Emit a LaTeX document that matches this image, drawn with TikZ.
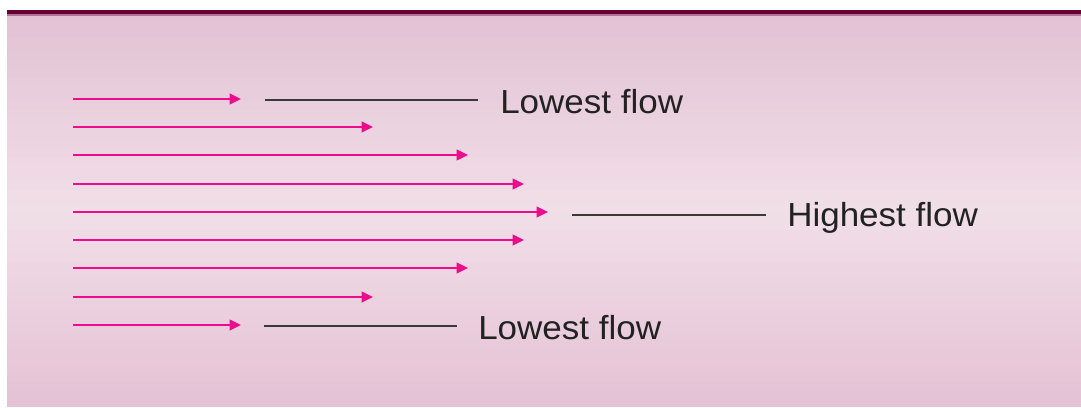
\documentclass[tikz,border=0pt]{standalone}
\usepackage{fontspec}
\setmainfont{Liberation Sans}
\usetikzlibrary{arrows.meta}
\definecolor{bandtop}{HTML}{E2C2D4}
\definecolor{bandmid}{HTML}{F1DFE8}
\definecolor{bandbot}{HTML}{E5C2D5}
\definecolor{rim}{HTML}{640033}
\definecolor{rimedge}{HTML}{B37294}
\definecolor{flow}{HTML}{EC0C8C}
\definecolor{leader}{HTML}{3A3A3A}
\definecolor{ink}{HTML}{222222}
\tikzset{
  flowarrow/.style={draw=flow, line width=1.6pt,
    -{Triangle[length=8.5pt,width=8pt]}},
  leaderline/.style={draw=leader, line width=1.5pt},
  flowlabel/.style={anchor=base west, inner sep=0pt, text=ink,
    font=\fontsize{25}{30}\selectfont}
}
\newcommand{\wide}[1]{\scalebox{1.05}[1]{#1}}
\begin{document}
\begin{tikzpicture}[x=0.75pt,y=-0.75pt]
\useasboundingbox (0,0) rectangle (1081,407);
% pipe interior: thin horizontal strips, lighter towards the centre line
\foreach \k in {0,...,48} {
  \pgfmathsetmacro{\ya}{14+\k*8}
  \pgfmathsetmacro{\yb}{\ya+8.6}
  \ifnum\k<25
    \pgfmathsetmacro{\p}{100*\k/24}
    \fill[bandmid!\p!bandtop] (7,\ya) rectangle (1081,\yb);
  \else
    \pgfmathsetmacro{\p}{100*(48-\k)/24}
    \fill[bandmid!\p!bandbot] (7,\ya) rectangle (1081,\yb);
  \fi
}
% pipe wall at the top
\fill[rimedge] (7,13.5) rectangle (1081,15.5);
\fill[rim] (7,10) rectangle (1081,14);

% velocity profile: one arrow per layer
\foreach \i/\y/\xe in {1/99/241, 2/127/373, 3/155/468, 4/184/524, 5/212/548,
                       6/240/524, 7/268/468, 8/297/373, 9/325/241} {
  \coordinate (s\i) at (73,\y);
  \coordinate (e\i) at (\xe,\y);
  \draw[flowarrow] (s\i) -- (e\i);
}

% labels with leader lines
\node[flowlabel] (low1) at (500,113.3) {\wide{Lowest flow}};
\node[flowlabel] (high) at (787,226) {\wide{Highest flow}};
\node[flowlabel] (low2) at (478,339) {\wide{Lowest flow}};

\coordinate (a1) at (265,100);
\coordinate (b1) at (478,100);
\coordinate (a5) at (572,215);
\coordinate (b5) at (766,215);
\coordinate (a9) at (264,325.5);
\coordinate (b9) at (457,325.5);
\draw[leaderline] (a1) -- (b1);
\draw[leaderline] (a5) -- (b5);
\draw[leaderline] (a9) -- (b9);
\end{tikzpicture}
\end{document}
